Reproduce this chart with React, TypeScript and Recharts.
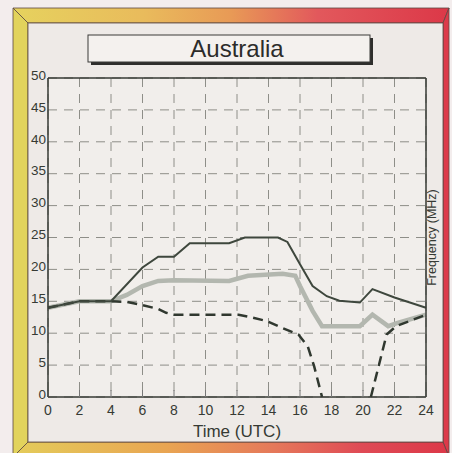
import React from 'react';
import { LineChart, Line, XAxis, YAxis, CartesianGrid, ReferenceLine } from 'recharts';

// hours (UTC) and frequencies (MHz)
const mufHours = [0, 2, 4, 6, 7, 8, 9, 11.5, 12.5, 14.6, 15.2, 16, 16.8, 17.7, 18.5, 19.8, 20.6, 22, 24];
const mufValues = [14, 15, 15, 20.3, 22, 22, 24.1, 24.1, 25, 25, 24.3, 20.8, 17.4, 15.8, 15.1, 14.8, 16.9, 15.6, 14];

const fotHours = [0, 2, 4, 5, 6, 7, 8, 11.5, 12.7, 14.9, 15.7, 16, 16.8, 17.4, 19.8, 20.6, 21.6, 22.2, 24];
const fotValues = [14, 15, 15, 16, 17.4, 18.2, 18.3, 18.2, 19, 19.3, 19, 17.4, 13.5, 11.1, 11.1, 12.9, 11.1, 11.6, 12.9];

const lufHours = [0, 2, 4, 5, 6, 7, 7.5, 8, 12.1, 12.7, 13.9, 14.9, 15.9, 16.5, 16.9, 17.4, 19, 20.5, 21.5, 22.1, 24];
const lufValues = [14, 15, 15, 14.9, 14.4, 13.8, 13.2, 12.9, 12.9, 12.6, 11.9, 10.8, 9.8, 7.9, 4.8, 0, null, 0, 9.8, 11.1, 12.9];

const hourTicks = [0, 2, 4, 6, 8, 10, 12, 14, 16, 18, 20, 22, 24];
const freqTicks = [0, 5, 10, 15, 20, 25, 30, 35, 40, 45, 50];

const title = 'Australia';

const toRows = (hours: number[], values: (number | null)[]) =>
  hours.map((hour, i) => ({ hour, value: values[i] }));

const font = '"Liberation Sans", Arial, sans-serif';
const ink = '#363a34';

const Frame = () => (
  <svg width={452} height={453} style={{ position: 'absolute', left: 0, top: 0 }}>
    <defs>
      <linearGradient id="topG" x1="0" x2="1" y1="0" y2="0">
        <stop offset="0" stopColor="#e6d25e" />
        <stop offset="0.3" stopColor="#e9bb5c" />
        <stop offset="0.5" stopColor="#e89a56" />
        <stop offset="0.7" stopColor="#e2585c" />
        <stop offset="1" stopColor="#dc3848" />
      </linearGradient>
      <linearGradient id="botG" x1="0" x2="1" y1="0" y2="0">
        <stop offset="0" stopColor="#e4cc5a" />
        <stop offset="0.35" stopColor="#e9a552" />
        <stop offset="0.6" stopColor="#e5785a" />
        <stop offset="0.8" stopColor="#df4a55" />
        <stop offset="1" stopColor="#dc3848" />
      </linearGradient>
    </defs>
    <rect x={0} y={0} width={452} height={453} fill="#f3eded" />
    <polygon points="13,8 449,8 443,23 28,23" fill="url(#topG)" stroke="#5a4842" strokeWidth={0.8} />
    <polygon points="13,8 28,23 28,442 13,457" fill="#e2d35c" stroke="#5a4842" strokeWidth={0.8} />
    <polygon points="449,8 449,457 443,442 443,23" fill="#dc3a4a" stroke="#5a4842" strokeWidth={0.8} />
    <polygon points="13,457 28,442 443,442 449,457" fill="url(#botG)" stroke="#5a4842" strokeWidth={0.8} />
    <rect x={28} y={23} width={415} height={419} fill="#eeeae7" stroke="#5a4842" strokeWidth={0.8} />
    {/* title box with its drop shadow */}
    <rect x={91} y={38} width={282} height={27} fill="#2e2e2c" />
    <rect x={88} y={35} width={282} height={27} fill="#f4f1ee" stroke="#3a3a38" strokeWidth={1} />
    <text x={237} y={57} textAnchor="middle" fontFamily={font} fontSize={24} fill="#2c2c2a">
      {title}
    </text>
  </svg>
);

export default function App() {
  return (
    <div style={{ position: 'absolute', left: 0, top: 0, width: 452, height: 453, fontFamily: font }}>
      <Frame />
      <div style={{ position: 'absolute', left: 0, top: 0 }}>
        <LineChart width={452} height={453} margin={{ top: 78, right: 14, bottom: 16, left: 28 }}>
          <CartesianGrid stroke="#8e8e88" strokeDasharray="9 7" fill="#f1eeeb" fillOpacity={1} />
          <XAxis
            dataKey="hour"
            type="number"
            domain={[0, 24]}
            ticks={hourTicks}
            interval={0}
            height={40}
            tickSize={-7}
            tickMargin={15}
            tick={{ fontSize: 14, fill: ink, fontFamily: font }}
            tickLine={{ stroke: '#777' }}
            axisLine={{ stroke: ink, strokeWidth: 1.5 }}
            label={{ value: 'Time (UTC)', position: 'insideBottom', offset: 0, fontSize: 17, fill: ink, fontFamily: font }}
          />
          <YAxis
            domain={[0, 50]}
            ticks={freqTicks}
            interval={0}
            width={20}
            tickLine={false}
            tickSize={0}
            tickMargin={2}
            tick={{ fontSize: 13.5, fill: ink, fontFamily: font, dy: -3 }}
            axisLine={{ stroke: ink, strokeWidth: 1.5 }}
          />
          <YAxis
            yAxisId="r"
            orientation="right"
            domain={[0, 50]}
            width={12}
            tick={false}
            tickLine={false}
            axisLine={{ stroke: ink, strokeWidth: 1.5 }}
            label={{ value: 'Frequency (MHz)', angle: -90, position: 'center', fontSize: 12.5, fill: ink, fontFamily: font }}
          />
          <ReferenceLine y={50} stroke={ink} strokeWidth={1.5} />
          <Line
            data={toRows(fotHours, fotValues)}
            dataKey="value"
            type="linear"
            stroke="#b3b7af"
            strokeWidth={4.5}
            dot={false}
            activeDot={false}
            connectNulls
            isAnimationActive={false}
          />
          <Line
            data={toRows(lufHours, lufValues)}
            dataKey="value"
            type="linear"
            stroke="#30382f"
            strokeWidth={2.5}
            strokeDasharray="10 6"
            dot={false}
            activeDot={false}
            isAnimationActive={false}
          />
          <Line
            data={toRows(mufHours, mufValues)}
            dataKey="value"
            type="linear"
            stroke="#3e473d"
            strokeWidth={2}
            dot={false}
            activeDot={false}
            connectNulls
            isAnimationActive={false}
          />
        </LineChart>
      </div>
    </div>
  );
}
